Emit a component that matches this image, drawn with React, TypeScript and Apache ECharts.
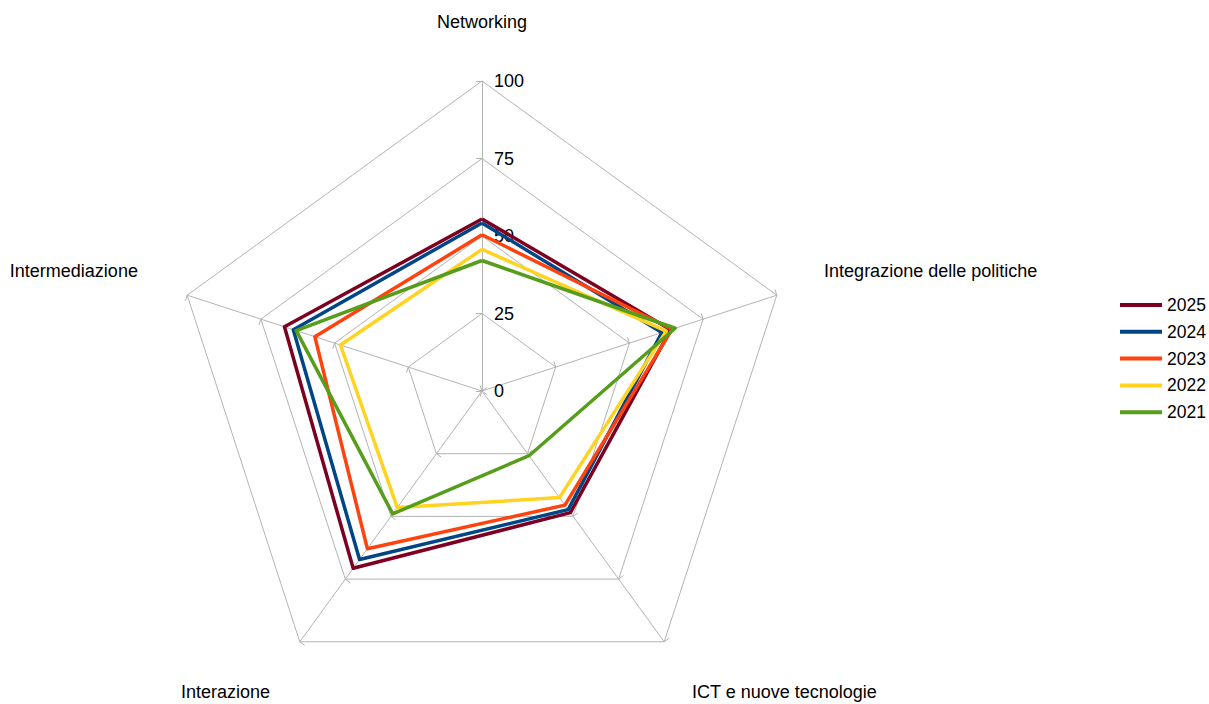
import React, { useEffect, useRef } from 'react';
import * as echarts from 'echarts';

// Indicators (ECharts radar runs counter-clockwise from the top)
const indicatorNames = [
  'Networking',
  'Intermediazione',
  'Interazione',
  'ICT e nuove tecnologie',
  'Integrazione delle politiche',
];
const indicatorMax = 100;
const years = ['2025', '2024', '2023', '2022', '2021'];
const yearColors = ['#7E0021', '#004586', '#FF420E', '#FFD320', '#579D1C'];

// values in indicator order above
const values2025 = [55.5, 67, 70.7, 48.5, 64];
const values2024 = [54.2, 64, 67.2, 47.3, 61];
const values2023 = [50.4, 56.7, 62.9, 45.5, 64.5];
const values2022 = [45.7, 48, 46.5, 42.5, 62.5];
const values2021 = [42.1, 63, 49, 25.8, 65.5];
const seriesValues = [values2025, values2024, values2023, values2022, values2021];

const tickLabels = ['0', '25', '50', '75', '100'];

const FONT = 'Liberation Sans, Arial, sans-serif';
const nameKeys = ['a', 'b', 'c', 'd', 'e'];

export default function App() {
  const ref = useRef<HTMLDivElement>(null);
  useEffect(() => {
    if (!ref.current) return;
    const chart = echarts.init(ref.current, undefined, { renderer: 'svg' });
    const textBase = { fontSize: 18, color: '#000', fontFamily: FONT };
    chart.setOption({
      animation: false,
      backgroundColor: '#fff',
      legend: {
        orient: 'vertical',
        left: 1120,
        top: 296,
        padding: 0,
        icon: 'rect',
        itemWidth: 42,
        itemHeight: 4,
        itemGap: 8.8,
        data: years,
        textStyle: { ...textBase, fontSize: 17.5 },
      },
      radar: {
        center: [482, 391],
        radius: 310,
        startAngle: 90,
        shape: 'polygon',
        splitNumber: 4,
        nameGap: 15,
        indicator: indicatorNames.map((n, i) => ({
          name: n,
          min: 0,
          max: indicatorMax,
          axisLabel: i === 0 ? { show: true } : { show: false },
        })),
        axisName: {
          ...textBase,
          formatter: (name: string) => {
            const idx = indicatorNames.indexOf(name);
            return `{${nameKeys[idx]}|${name}}`;
          },
          rich: {
            a: { ...textBase, padding: [0, 0, 35, 0] },
            b: { ...textBase, padding: [0, 35, 40, 0] },
            c: { ...textBase, padding: [76, 21, 0, 0] },
            d: { ...textBase, padding: [76, 0, 0, 19] },
            e: { ...textBase, padding: [0, 0, 40, 33] },
          },
        },
        axisLabel: {
          show: false,
          ...textBase,
          margin: -12,
          align: 'left',
          formatter: (v: number) => (tickLabels.includes(String(v)) ? String(v) : ''),
        },
        axisTick: { show: true, length: 6, lineStyle: { color: '#b3b3b3', width: 1 } },
        axisLine: { lineStyle: { color: '#b3b3b3', width: 1 } },
        splitLine: { lineStyle: { color: '#b3b3b3', width: 1 } },
        splitArea: { show: false },
      },
      series: [
        {
          type: 'radar',
          symbol: 'none',
          data: years.map((y, i) => ({
            name: y,
            value: seriesValues[i],
            lineStyle: { color: yearColors[i], width: 3.5 },
            itemStyle: { color: yearColors[i] },
          })),
        },
      ],
    });
    return () => chart.dispose();
  }, []);
  return (
    <div
      ref={ref}
      style={{ position: 'fixed', left: 0, top: 0, width: 1209, height: 704 }}
    />
  );
}
